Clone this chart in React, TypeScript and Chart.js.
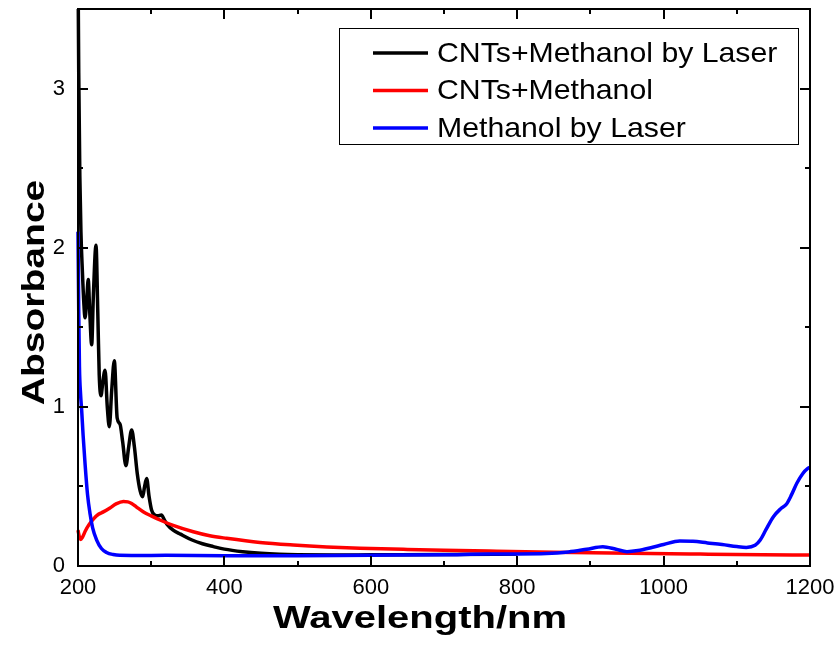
import React, { useEffect, useRef } from "react";
import { Chart, registerables } from "chart.js";

Chart.register(...registerables);

// Series labels
const seriesLabels = ["CNTs+Methanol by Laser", "CNTs+Methanol", "Methanol by Laser"];
const seriesColors = ["#000000", "#ff0000", "#0000ff"];

// CNTs+Methanol by Laser
const laserCntWl = [
  200, 201, 202.5, 204, 206, 208, 209.6, 212, 214, 216, 218.7, 221, 224.6, 227, 229, 231.4,
  234, 237, 240, 242.8, 246, 249.6, 253.5, 257.5, 261, 265.5, 269, 273.3, 277, 281, 285,
  288.3, 291, 293.8, 297, 300.6, 305, 309, 314, 318, 322, 330, 340, 355, 370, 385, 400,
  425, 450, 475, 500, 550, 600, 700, 800,
];
const laserCntAbs = [
  3.8, 3.1, 2.45, 2.1, 1.85, 1.65, 1.56, 1.68, 1.8, 1.6, 1.39, 1.7, 2.015, 1.6, 1.2, 1.07,
  1.16, 1.23, 1.0, 0.875, 1.1, 1.29, 0.93, 0.89, 0.78, 0.63, 0.74, 0.855, 0.75, 0.58, 0.47,
  0.435, 0.5, 0.55, 0.44, 0.35, 0.32, 0.315, 0.32, 0.29, 0.26, 0.225, 0.2, 0.165, 0.14, 0.122, 0.106,
  0.09, 0.08, 0.074, 0.071, 0.069, 0.07, 0.072, 0.075,
];

// CNTs+Methanol
const cntWl = [
  200, 202, 203.7, 206, 210, 215, 221, 228, 234.6, 243.7, 252, 262, 268, 273.3, 280, 289,
  300, 312, 330, 357.5, 380, 403, 448.6, 494, 540, 585, 650, 700, 772, 850, 954, 1050,
  1136, 1200,
];
const cntAbs = [
  0.225, 0.18, 0.167, 0.18, 0.22, 0.26, 0.295, 0.325, 0.34, 0.365, 0.39, 0.405, 0.403, 0.393,
  0.37, 0.341, 0.315, 0.289, 0.255, 0.215, 0.19, 0.174, 0.148, 0.132, 0.12, 0.112, 0.104,
  0.099, 0.093, 0.087, 0.08, 0.075, 0.071, 0.069,
];

// Methanol by Laser
const laserMeWl = [
  200, 201, 202, 203.5, 205, 207, 209.6, 213, 216.4, 220, 225.5, 232, 239, 248, 257, 280,
  320, 400, 500, 600, 700, 760, 800, 840, 870, 895, 917, 935, 950, 965, 985, 1000, 1022,
  1040, 1060, 1080, 1100, 1113, 1125, 1132, 1140, 1150, 1160, 1168, 1175, 1182, 1190, 1197,
  1200,
];
const laserMeAbs = [
  2.1, 1.6, 1.25, 1.08, 0.98, 0.82, 0.645, 0.45, 0.33, 0.24, 0.163, 0.11, 0.085, 0.072, 0.067,
  0.066, 0.067, 0.064, 0.065, 0.068, 0.07, 0.076, 0.076, 0.078, 0.088, 0.105, 0.121, 0.105,
  0.09, 0.097, 0.118, 0.135, 0.157, 0.155, 0.145, 0.135, 0.122, 0.117, 0.13, 0.163, 0.23,
  0.31, 0.36, 0.39, 0.45, 0.52, 0.58, 0.613, 0.62,
];

// Axis ranges and labels
const xMin = 200;
const xMax = 1200;
const yMin = 0;
const yMax = 3.5;
const xTitle = "Wavelength/nm";
const yTitle = "Absorbance";

const toPoints = (xs: number[], ys: number[]) => xs.map((x, i) => ({ x, y: ys[i] }));

const AXIS_FONT = "'Liberation Sans', Arial, sans-serif";

// Draws the closed frame with inward ticks on all four sides, the boxed legend and axis titles.
const framePlugin = {
  id: "frameAndLegend",
  afterDatasetsDraw(chart: any) {
    const { ctx, chartArea } = chart;
    const { left, right, top, bottom } = chartArea;
    const xs = chart.scales.x;
    const ys = chart.scales.y;
    ctx.save();
    ctx.strokeStyle = "#000";
    ctx.lineWidth = 2;
    ctx.strokeRect(left, top, right - left, bottom - top);
    ctx.beginPath();
    xs.ticks.forEach((t: any) => {
      const px = Math.round(xs.getPixelForValue(t.value));
      const len = t.value % 200 === 0 ? 10 : 5;
      ctx.moveTo(px, bottom);
      ctx.lineTo(px, bottom - len);
      ctx.moveTo(px, top);
      ctx.lineTo(px, top + len);
    });
    ys.ticks.forEach((t: any) => {
      const py = Math.round(ys.getPixelForValue(t.value));
      const len = Number.isInteger(t.value) ? 10 : 5;
      ctx.moveTo(left, py);
      ctx.lineTo(left + len, py);
      ctx.moveTo(right, py);
      ctx.lineTo(right - len, py);
    });
    ctx.stroke();
    ctx.restore();
  },
  afterDraw(chart: any) {
    const { ctx, chartArea } = chart;
    ctx.save();

    // Legend box
    const boxL = 339;
    const boxT = 28;
    const boxR = 798;
    const boxB = 144;
    ctx.fillStyle = "#fff";
    ctx.fillRect(boxL, boxT, boxR - boxL, boxB - boxT);
    ctx.strokeStyle = "#000";
    ctx.lineWidth = 1;
    ctx.strokeRect(boxL + 0.5, boxT + 0.5, boxR - boxL, boxB - boxT);
    chart.data.datasets.forEach((ds: any, i: number) => {
      const base = 61.5 + i * 37.5;
      ctx.strokeStyle = ds.borderColor;
      ctx.lineWidth = 3.5;
      ctx.beginPath();
      ctx.moveTo(373, base - 8.5);
      ctx.lineTo(428, base - 8.5);
      ctx.stroke();
      ctx.save();
      ctx.translate(437, base);
      ctx.scale(1.08, 1);
      ctx.fillStyle = "#000";
      ctx.font = `28px ${AXIS_FONT}`;
      ctx.textAlign = "left";
      ctx.textBaseline = "alphabetic";
      ctx.fillText(ds.label, 0, 0);
      ctx.restore();
    });

    // Axis titles
    ctx.fillStyle = "#000";
    ctx.font = `bold 32px ${AXIS_FONT}`;
    ctx.textAlign = "center";
    ctx.textBaseline = "alphabetic";
    ctx.save();
    ctx.translate(420, 628);
    ctx.scale(1.25, 1);
    ctx.fillText(xTitle, 0, 0);
    ctx.restore();

    ctx.save();
    ctx.translate(43.5, (chartArea.top + chartArea.bottom) / 2 + 5);
    ctx.rotate(-Math.PI / 2);
    ctx.scale(1.22, 1);
    ctx.fillText(yTitle, 0, 0);
    ctx.restore();

    ctx.restore();
  },
};

export default function App() {
  const canvasRef = useRef<HTMLCanvasElement | null>(null);

  useEffect(() => {
    const canvas = canvasRef.current;
    if (!canvas) return;
    const seriesX = [laserCntWl, cntWl, laserMeWl];
    const seriesY = [laserCntAbs, cntAbs, laserMeAbs];
    const chart = new Chart(canvas, {
      type: "line",
      data: {
        datasets: seriesLabels.map((label, i) => ({
          label,
          data: toPoints(seriesX[i], seriesY[i]),
          borderColor: seriesColors[i],
          backgroundColor: seriesColors[i],
          borderWidth: 3.5,
          pointRadius: 0,
          pointHoverRadius: 0,
          fill: false,
          cubicInterpolationMode: "monotone" as const,
          order: 3 - i,
          clip: { left: 3, top: 0, right: 3, bottom: 3 },
        })),
      },
      plugins: [framePlugin],
      options: {
        responsive: false,
        animation: false,
        events: [],
        layout: { padding: { top: 9, right: 30, left: 0, bottom: 0 } },
        plugins: {
          legend: { display: false },
          tooltip: { enabled: false },
          title: { display: false },
        },
        scales: {
          x: {
            type: "linear",
            min: xMin,
            max: xMax,
            grid: { display: false, drawTicks: false },
            border: { display: false },
            ticks: {
              stepSize: 100,
              autoSkip: false,
              maxRotation: 0,
              padding: 9,
              color: "#000",
              font: { family: AXIS_FONT, size: 22 },
              callback: (v: any) => (Number(v) % 200 === 0 ? String(v) : ""),
            },
            afterFit: (scale: any) => {
              scale.height = 81;
              scale.paddingLeft = 0;
              scale.paddingRight = 0;
            },
          },
          y: {
            type: "linear",
            min: yMin,
            max: yMax,
            grid: { display: false, drawTicks: false },
            border: { display: false },
            ticks: {
              stepSize: 0.5,
              autoSkip: false,
              padding: 13,
              color: "#000",
              font: { family: AXIS_FONT, size: 22 },
              callback: (v: any) => (Number.isInteger(Number(v)) ? String(v) : ""),
            },
            afterFit: (scale: any) => {
              scale.width = 78;
              scale.paddingTop = 0;
              scale.paddingBottom = 0;
            },
          },
        },
      },
    });
    return () => chart.destroy();
  }, []);

  return (
    <div style={{ position: "absolute", left: 0, top: 0, width: 840, height: 647, background: "#fff" }}>
      <canvas ref={canvasRef} width={840} height={647} style={{ display: "block" }} />
    </div>
  );
}
